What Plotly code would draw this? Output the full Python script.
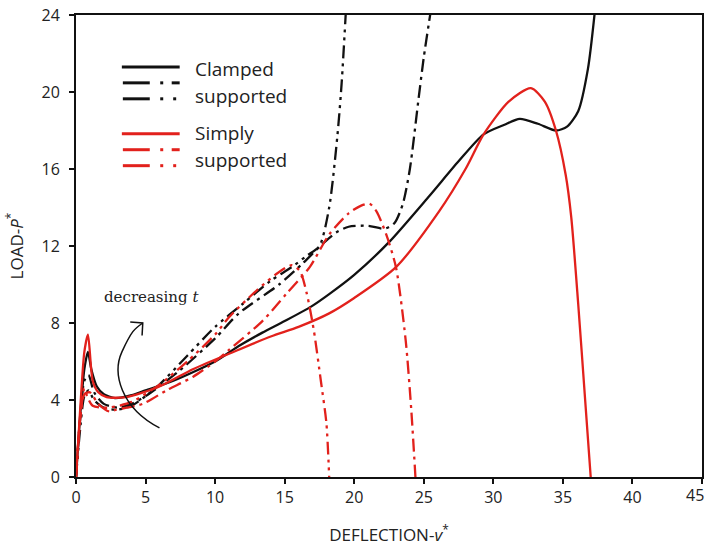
import plotly.graph_objects as go

# ---- data ----
# Clamped supported, solid (thickest)
cs1_x = [0, 0.3, 0.6, 0.86, 1.1, 1.5, 2.0, 2.8, 4.0, 5.0, 7.0, 10.0, 11.7, 13.4, 15.0, 16.9, 18.2, 20.0,
         22.5, 25.4, 27.5, 29.3, 30.8, 31.9, 33.2, 34.5, 35.3, 36.1, 36.8, 37.3]
cs1_y = [0, 3.2, 5.6, 6.5, 5.6, 4.7, 4.3, 4.1, 4.25, 4.5, 5.0, 6.0, 6.8, 7.5, 8.1, 8.85, 9.5, 10.5,
         12.2, 14.6, 16.4, 17.8, 18.3, 18.6, 18.35, 18.0, 18.2, 19.0, 21.2, 24.2]
# Clamped supported, dash-dot
cs2_x = [0, 0.3, 0.6, 0.9, 1.3, 2.0, 3.0, 4.0, 5.0, 7.4, 10.0, 11.7, 14.6, 16.3, 17.7, 18.7, 19.6, 21.0,
         22.2, 22.9, 23.5, 24.0, 24.6, 25.0, 25.5]
cs2_y = [0, 3.0, 5.0, 5.3, 4.4, 3.8, 3.6, 3.8, 4.2, 5.5, 7.2, 8.5, 10.0, 11.1, 12.1, 12.7, 13.0, 13.05,
         12.9, 13.2, 14.2, 16.0, 19.5, 21.8, 24.2]
# Clamped supported, dash-dot-dot (thinnest)
cs3_x = [0, 0.3, 0.6, 0.9, 1.3, 2.0, 3.0, 4.0, 5.0, 6.0, 8.0, 10.0, 12.0, 14.0, 15.5, 16.6, 17.5, 18.2,
         18.8, 19.1, 19.4]
cs3_y = [0, 2.5, 4.2, 4.5, 4.0, 3.6, 3.5, 3.7, 4.2, 4.8, 6.3, 7.8, 9.0, 10.2, 10.9, 11.5, 12.0, 14.0,
         17.8, 20.5, 24.2]
# Simply supported, solid (thickest)
ss1_x = [0, 0.3, 0.6, 0.86, 1.2, 1.6, 2.2, 3.6, 6.0, 8.4, 11.0, 14.0, 16.0, 18.2, 20.0, 23.0, 26.1, 28.0,
         29.3, 31.1, 32.7, 33.7, 34.5, 35.2, 35.6, 36.1, 36.6, 37.0]
ss1_y = [0, 3.5, 6.5, 7.4, 5.0, 4.4, 4.15, 4.15, 4.7, 5.6, 6.4, 7.3, 7.8, 8.5, 9.3, 10.9, 13.8, 16.0,
         17.8, 19.5, 20.2, 19.5, 18.0, 15.7, 13.5, 9.0, 4.0, 0]
# Simply supported, dash-dot
ss2_x = [0, 0.3, 0.6, 1.0, 1.6, 2.4, 2.9, 4.8, 6.5, 8.4, 10.0, 11.0, 13.4, 15.1, 16.8, 18.2, 19.6, 20.5,
         21.1, 21.6, 22.3, 23.0, 23.7, 24.1, 24.4]
ss2_y = [0, 3.0, 4.3, 4.4, 3.8, 3.4, 3.5, 3.8, 4.5, 5.2, 6.0, 6.6, 8.1, 9.5, 10.9, 12.6, 13.7, 14.1,
         14.2, 13.8, 12.6, 10.9, 7.1, 3.5, 0]
# Simply supported, dash-dot-dot (thinnest)
ss3_x = [0, 0.3, 0.6, 0.8, 1.2, 2.3, 4.0, 6.0, 8.0, 10.0, 11.0, 13.0, 14.5, 15.5, 16.1, 16.6, 17.1, 17.6,
         18.0, 18.2]
ss3_y = [0, 3.0, 4.6, 4.2, 3.7, 3.6, 3.9, 4.8, 6.0, 7.4, 8.3, 9.7, 10.6, 11.0, 10.7, 9.5, 7.6, 5.0,
         2.8, 0]

x_ticks = [0, 5, 10, 15, 20, 25, 30, 35, 40, 45]
y_ticks = [0, 4, 8, 12, 16, 20, 24]

BLACK = "#111111"
RED = "#E2211C"
TXT = "#222222"
DASHDOT = "13px,5px,3px,5px"
DASHDOTDOT = "13px,5px,3px,5px,3px,5px"

fig = go.Figure()
series = [
    (cs1_x, cs1_y, BLACK, "solid"),
    (cs2_x, cs2_y, BLACK, DASHDOT),
    (cs3_x, cs3_y, BLACK, DASHDOTDOT),
    (ss1_x, ss1_y, RED, "solid"),
    (ss2_x, ss2_y, RED, DASHDOT),
    (ss3_x, ss3_y, RED, DASHDOTDOT),
]
for xs, ys, col, dash in series:
    fig.add_trace(go.Scatter(x=xs, y=ys, mode="lines", showlegend=False,
                             line=dict(color=col, width=2.3, dash=dash, shape="spline", smoothing=0.7),
                             cliponaxis=True))

# ---- hand-drawn style legend (paper coords) ----
L, R, T, B = 76, 704, 14, 477
def px(xp):
    return (xp - L) / (R - L)
def py(yp):
    return (B - yp) / (B - T)

shapes = []
def seg(x0, x1, y, col):
    shapes.append(dict(type="line", xref="paper", yref="paper", x0=px(x0), x1=px(x1), y0=py(y), y1=py(y),
                       line=dict(color=col, width=3)))

for col, y0 in [(BLACK, 66), (RED, 133)]:
    seg(122, 180, y0, col)
    seg(123, 150, y0 + 16, col); seg(160.5, 163.5, y0 + 16, col); seg(172, 180, y0 + 16, col)
    seg(123, 150, y0 + 32, col); seg(160.5, 163.5, y0 + 32, col); seg(173.5, 176.5, y0 + 32, col)

# curved arrow "decreasing t"
shapes.append(dict(type="path", xref="x", yref="y",
                   path="M 6.0,2.55 C 3.2,3.6 2.6,5.4 3.3,6.5 S 4.2,7.7 4.8,8.0",
                   line=dict(color=BLACK, width=1.5)))
shapes.append(dict(type="path", xref="x", yref="y",
                   path="M 3.9,8.05 L 4.8,8.0 L 4.75,7.35",
                   line=dict(color=BLACK, width=1.5)))

LEG_FONT = dict(family="Open Sans", size=19, color=TXT)
annotations = [
    dict(text="Clamped", xref="paper", yref="paper", x=px(193), y=py(68), xanchor="left", yanchor="middle",
         showarrow=False, font=LEG_FONT),
    dict(text="supported", xref="paper", yref="paper", x=px(193), y=py(95), xanchor="left", yanchor="middle",
         showarrow=False, font=LEG_FONT),
    dict(text="Simply", xref="paper", yref="paper", x=px(193), y=py(132), xanchor="left", yanchor="middle",
         showarrow=False, font=LEG_FONT),
    dict(text="supported", xref="paper", yref="paper", x=px(193), y=py(159), xanchor="left", yanchor="middle",
         showarrow=False, font=LEG_FONT),
    dict(text="decreasing <i>t</i>", xref="paper", yref="paper", x=px(152), y=py(297), xanchor="center",
         yanchor="middle", showarrow=False, font=dict(family="DejaVu Serif", size=15, color=TXT)),
    # last x tick label, which sits at the very right edge of the page
    dict(text="45", xref="paper", yref="paper", x=px(708), y=py(495), xanchor="right", yanchor="middle",
         showarrow=False, font=dict(family="Open Sans", size=16, color=TXT)),
]

tick_text_x = [str(v) for v in x_ticks[:-1]] + [""]

fig.update_layout(
    width=708, height=552,
    margin=dict(l=L, r=708 - R, t=T, b=552 - B),
    paper_bgcolor="white", plot_bgcolor="white",
    shapes=shapes, annotations=annotations,
    font=dict(family="Open Sans", size=16, color=TXT),
    xaxis=dict(range=[0, 45], tickvals=x_ticks, ticktext=tick_text_x,
               showgrid=False, zeroline=False, showline=True, linecolor=BLACK, linewidth=2, mirror=True,
               ticks="outside", ticklen=5, tickcolor=BLACK, tickwidth=1.5,
               tickfont=dict(family="Open Sans", size=16, color=TXT),
               title=dict(text="DEFLECTION-<i>v</i><sup>*</sup>", standoff=22,
                          font=dict(family="Open Sans", size=17, color=TXT))),
    yaxis=dict(range=[0, 24], tickvals=y_ticks, ticktext=[str(v) for v in y_ticks],
               showgrid=False, zeroline=False, showline=True, linecolor=BLACK, linewidth=2, mirror=True,
               ticks="outside", ticklen=5, tickcolor=BLACK, tickwidth=1.5, ticklabelstandoff=6,
               tickfont=dict(family="Open Sans", size=16, color=TXT),
               title=dict(text="LOAD-<i>P</i><sup>*</sup>", standoff=14,
                          font=dict(family="Open Sans", size=17, color=TXT))),
)

fig.write_html("out.html")
